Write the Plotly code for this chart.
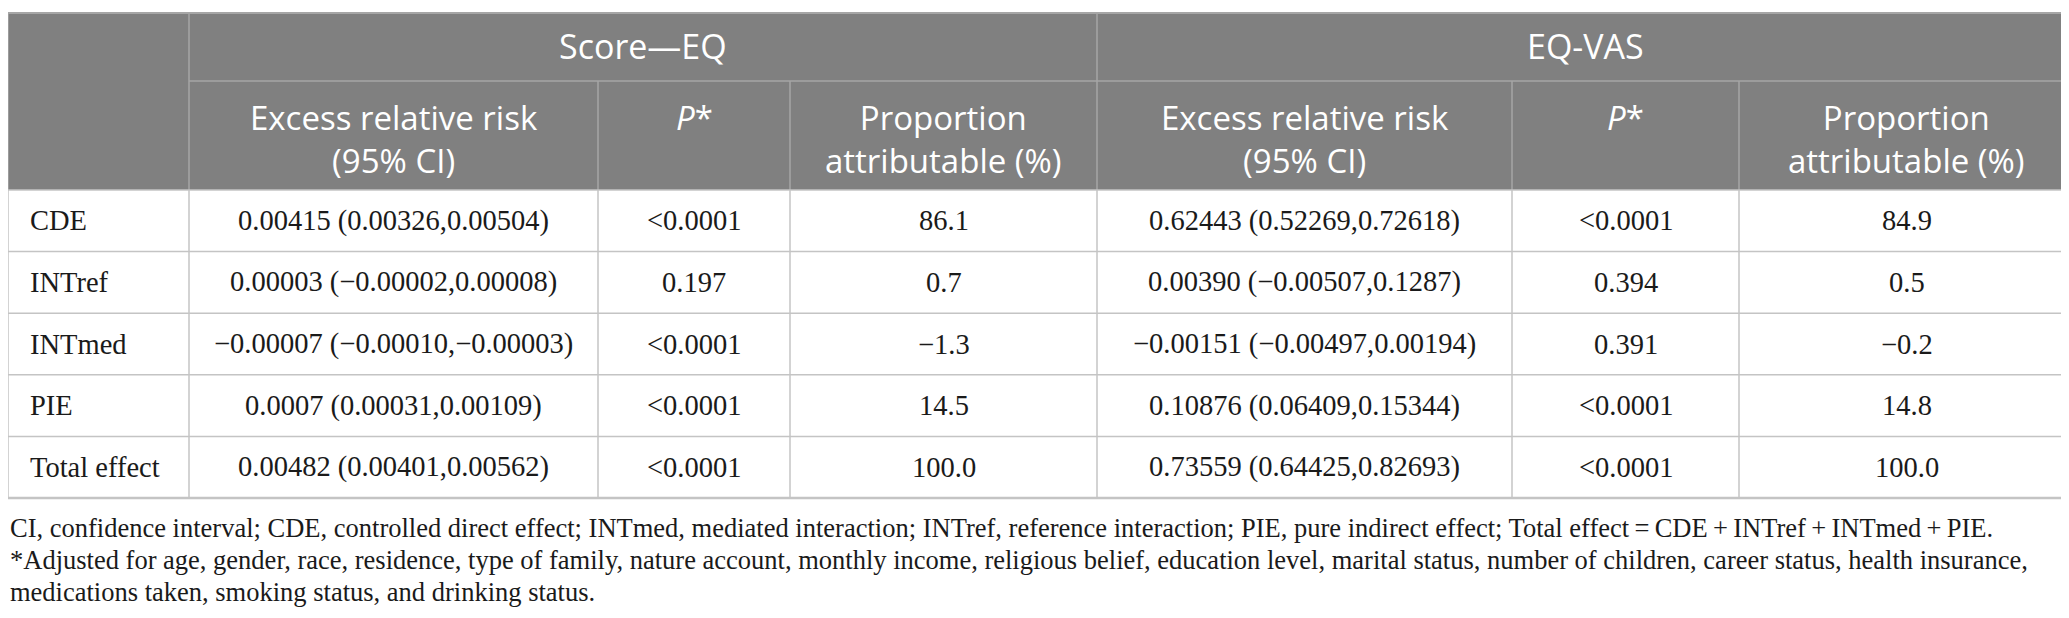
import plotly.graph_objects as go

# table contents
row_labels = ["CDE", "INTref", "INTmed", "PIE", "Total effect"]
group_labels = ["Score\u2014EQ", "EQ-VAS"]
sub_labels = [["Excess relative risk", "(95% CI)"], ["<i>P</i>*"], ["Proportion", "attributable (%)"]]

eq_err = ["0.00415 (0.00326,0.00504)", "0.00003 (\u22120.00002,0.00008)",
          "\u22120.00007 (\u22120.00010,\u22120.00003)", "0.0007 (0.00031,0.00109)",
          "0.00482 (0.00401,0.00562)"]
eq_p = ["<0.0001", "0.197", "<0.0001", "<0.0001", "<0.0001"]
eq_prop = ["86.1", "0.7", "\u22121.3", "14.5", "100.0"]

vas_err = ["0.62443 (0.52269,0.72618)", "0.00390 (\u22120.00507,0.1287)",
           "\u22120.00151 (\u22120.00497,0.00194)", "0.10876 (0.06409,0.15344)",
           "0.73559 (0.64425,0.82693)"]
vas_p = ["<0.0001", "0.394", "0.391", "<0.0001", "<0.0001"]
vas_prop = ["84.9", "0.5", "\u22120.2", "14.8", "100.0"]

footnotes = [
    "CI, confidence interval; CDE, controlled direct effect; INTmed, mediated interaction; INTref, reference interaction; PIE, pure indirect effect; Total effect\u2009=\u2009CDE\u2009+\u2009INTref\u2009+\u2009INTmed\u2009+\u2009PIE.",
    "*Adjusted for age, gender, race, residence, type of family, nature account, monthly income, religious belief, education level, marital status, number of children, career status, health insurance,",
    "medications taken, smoking status, and drinking status.",
]

# geometry
W, H = 2069, 618
col_w = [181, 409, 192, 307, 415, 227, 335]
top = 5
group_h = 68
sub_h = 109
row_h = 61.6
head_fill = "#808080"
head_line = "#a6a6a6"
grid = "#c4c4c4"
sans = "Open Sans"
serif = "Liberation Serif"
ink = "#1a1a1a"

edges = [0]
for w in col_w:
    edges.append(edges[-1] + w)
y_group = top + group_h
y_head = y_group + sub_h
y_bottom = y_head + row_h * len(row_labels)

columns = [eq_err, eq_p, eq_prop, vas_err, vas_p, vas_prop]

shapes = []
annotations = []

# header background
shapes.append(dict(type="rect", xref="x", yref="y", x0=edges[0], x1=edges[-1], y0=top, y1=y_head,
                   fillcolor=head_fill, line=dict(width=0), layer="below"))

def hline(x0, x1, y, color, width=1.5):
    shapes.append(dict(type="line", xref="x", yref="y", x0=x0, x1=x1, y0=y, y1=y,
                       line=dict(color=color, width=width)))

def vline(x, y0, y1, color, width=1.5):
    shapes.append(dict(type="line", xref="x", yref="y", x0=x, x1=x, y0=y0, y1=y1,
                       line=dict(color=color, width=width)))

# header lines
hline(edges[0], edges[-1], top, head_line, 2)
hline(edges[1], edges[-1], y_group, head_line)
vline(edges[1], top, y_head, head_line)
vline(edges[4], top, y_head, head_line)
for i in [2, 3, 5, 6]:
    vline(edges[i], y_group, y_head, head_line)
vline(edges[0], top, y_head, head_line)
vline(edges[-1], top, y_head, head_line)

# body lines
for r in range(len(row_labels) + 1):
    yy = y_head + r * row_h
    hline(edges[0], edges[-1], yy, grid, 2.5 if r == len(row_labels) else 1.5)
for e in edges:
    vline(e, y_head, y_bottom, grid)

# group headers
for g, lab in enumerate(group_labels):
    xc = (edges[1 + 3 * g] + edges[4 + 3 * g]) / 2
    annotations.append(dict(x=xc, y=top + 33, text=lab, showarrow=False,
                            font=dict(family=sans, size=34, color="white"),
                            xanchor="center", yanchor="middle"))

# sub headers (one block per cell, first line sits at the same height everywhere)
line_gap = 43
for c in range(6):
    lines = sub_labels[c % 3]
    xc = (edges[c + 1] + edges[c + 2]) / 2
    yc = y_group + 36 + (len(lines) - 1) * line_gap / 2
    annotations.append(dict(x=xc, y=yc, text="<br>".join(lines), showarrow=False,
                            font=dict(family=sans, size=33, color="white"),
                            xanchor="center", yanchor="middle", align="center"))

# body cells
for r, lab in enumerate(row_labels):
    yc = y_head + r * row_h + row_h / 2
    annotations.append(dict(x=edges[0] + 20, y=yc, text=lab, showarrow=False,
                            font=dict(family=serif, size=28.5, color=ink),
                            xanchor="left", yanchor="middle"))
    for c, col in enumerate(columns):
        xc = (edges[c + 1] + edges[c + 2]) / 2
        annotations.append(dict(x=xc, y=yc, text=col[r].replace("<", "&lt;"), showarrow=False,
                                font=dict(family=serif, size=28.5, color=ink),
                                xanchor="center", yanchor="middle"))

# footnotes
for k, note in enumerate(footnotes):
    annotations.append(dict(x=0, y=y_bottom + 30 + k * 32, text=note, showarrow=False,
                            font=dict(family=serif, size=26.5, color=ink),
                            xanchor="left", yanchor="middle"))

fig = go.Figure()
fig.update_layout(
    width=W, height=H,
    margin=dict(l=0, r=0, t=0, b=0),
    paper_bgcolor="white", plot_bgcolor="white",
    xaxis=dict(range=[0, W], visible=False, fixedrange=True),
    yaxis=dict(range=[H, 0], visible=False, fixedrange=True),
    shapes=shapes, annotations=annotations, showlegend=False,
)
fig.write_html("out.html")
